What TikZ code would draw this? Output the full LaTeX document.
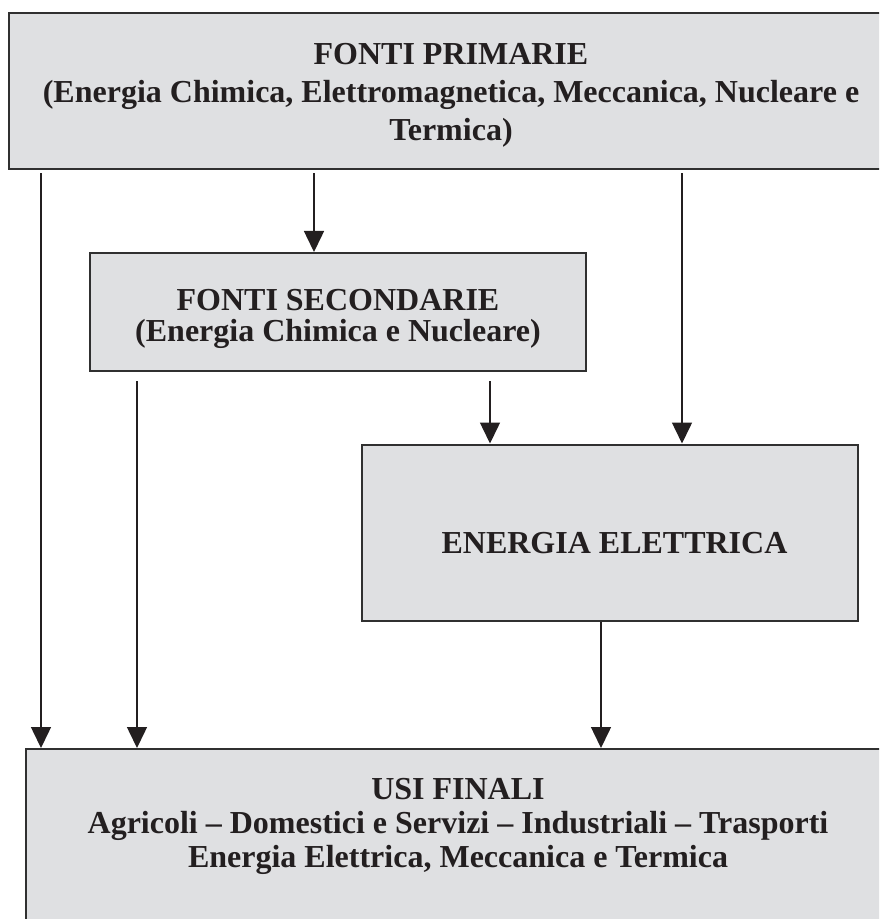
\documentclass[tikz,border=0pt]{standalone}
\usepackage{fontspec}
\setmainfont{Liberation Serif}
\usetikzlibrary{arrows.meta}
\definecolor{boxgray}{RGB}{223,224,226}
\definecolor{ink}{RGB}{35,31,32}
\definecolor{edge}{RGB}{48,48,48}
\begin{document}
\begin{tikzpicture}
                [x=0.5pt, y=-0.5pt,
                 every node/.style={text=ink},
                 box/.style={draw=edge, line width=1pt, fill=boxgray, align=center, inner sep=0pt},
                 freccia/.style={draw=ink, line width=0.75pt, -{Triangle[length=10.5pt, width=10pt]}}]
                \useasboundingbox (0,0) rectangle (879,919);
                \clip (0,0) rectangle (879,919);
                \node (prim) [box, minimum width=442pt, font=\bfseries\fontsize{16}{19}\selectfont] at (451,91)
                    {\rule{0pt}{26pt}FONTI PRIMARIE\\(Energia Chimica, Elettromagnetica, Meccanica, Nucleare e\\Termica)\rule[-14pt]{0pt}{14pt}};
                \node (sec) [box, minimum width=248pt, font=\bfseries\fontsize{16}{15.5}\selectfont] at (338,312)
                    {\rule{0pt}{28.75pt}FONTI SECONDARIE\\(Energia Chimica e Nucleare)\rule[-14.75pt]{0pt}{14.75pt}};
                \node (ele) [box, minimum width=248pt, font=\bfseries\fontsize{16}{18}\selectfont] at (610,532.5)
                    {\hspace*{4.5pt}\rule[-33.5pt]{0pt}{88pt}ENERGIA ELETTRICA};
                \node (fin) [box, minimum width=432pt, font=\bfseries\fontsize{16}{17}\selectfont] at (458,874.5)
                    {\rule{0pt}{25pt}USI FINALI\\Agricoli -- Domestici e Servizi -- Industriali -- Trasporti\\Energia Elettrica, Meccanica e Termica\rule[-66.5pt]{0pt}{66.5pt}};
                \draw[freccia, shorten <=1.75pt] (prim.south -| 41,0) -- (fin.north -| 41,0);
                \draw[freccia, shorten <=1.75pt] (prim.south -| 314,0) -- (sec.north -| 314,0);
                \draw[freccia, shorten <=1.75pt] (prim.south -| 682,0) -- (ele.north -| 682,0);
                \draw[freccia, shorten <=4.5pt] (sec.south -| 137,0) -- (fin.north -| 137,0);
                \draw[freccia, shorten <=4.5pt] (sec.south -| 490,0) -- (ele.north -| 490,0);
                \draw[freccia] (ele.south -| 601,0) -- (fin.north -| 601,0);
            \end{tikzpicture}
\end{document}
